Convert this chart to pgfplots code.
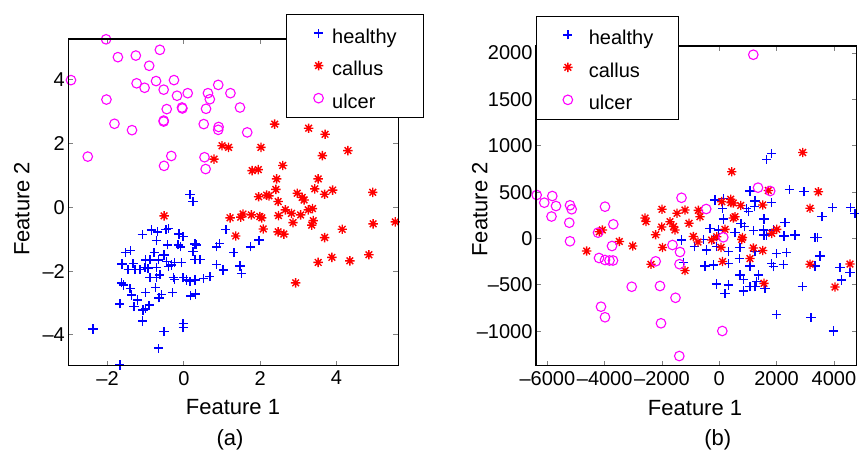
\documentclass[border=0pt]{standalone}
\usepackage{fontspec}
\setmainfont{Liberation Sans}
\usepackage{pgfplots}
\pgfplotsset{compat=1.18}

\definecolor{mblue}{RGB}{0,0,255}
\definecolor{mred}{RGB}{255,0,0}
\definecolor{mmag}{RGB}{255,0,255}

% marks that carry their own colour and pen, so every copy is drawn the same
\pgfdeclareplotmark{hplus}{%
  \pgfsetstrokecolor{mblue}\pgfsetlinewidth{1.4pt}%
  \pgfpathmoveto{\pgfqpoint{-\pgfplotmarksize}{0pt}}%
  \pgfpathlineto{\pgfqpoint{\pgfplotmarksize}{0pt}}%
  \pgfpathmoveto{\pgfqpoint{0pt}{-\pgfplotmarksize}}%
  \pgfpathlineto{\pgfqpoint{0pt}{\pgfplotmarksize}}%
  \pgfusepathqstroke}
\pgfdeclareplotmark{cstar}{%
  \pgfsetstrokecolor{mred}\pgfsetlinewidth{1.4pt}%
  \pgfpathmoveto{\pgfqpoint{-\pgfplotmarksize}{0pt}}%
  \pgfpathlineto{\pgfqpoint{\pgfplotmarksize}{0pt}}%
  \pgfpathmoveto{\pgfqpoint{0pt}{-\pgfplotmarksize}}%
  \pgfpathlineto{\pgfqpoint{0pt}{\pgfplotmarksize}}%
  \pgfpathmoveto{\pgfqpoint{-0.707\pgfplotmarksize}{-0.707\pgfplotmarksize}}%
  \pgfpathlineto{\pgfqpoint{0.707\pgfplotmarksize}{0.707\pgfplotmarksize}}%
  \pgfpathmoveto{\pgfqpoint{-0.707\pgfplotmarksize}{0.707\pgfplotmarksize}}%
  \pgfpathlineto{\pgfqpoint{0.707\pgfplotmarksize}{-0.707\pgfplotmarksize}}%
  \pgfusepathqstroke}
\pgfdeclareplotmark{ucirc}{%
  \pgfsetstrokecolor{mmag}\pgfsetlinewidth{1.1pt}%
  \pgfpathcircle{\pgfpointorigin}{\pgfplotmarksize}%
  \pgfusepathqstroke}

\pgfplotsset{
  fig/.style={
    scale only axis, clip=false, scaled ticks=false,
    axis line style={line width=1.1pt},
    tick style={line width=0.8pt},
    major tick length=5pt,
    tick label style={font=\fontsize{20}{24}\selectfont},
    xticklabel style={yshift=-2pt},
    label style={font=\fontsize{22}{26}\selectfont},
    legend style={font=\fontsize{20}{24}\selectfont, draw=black, line width=1.1pt,
      fill=white, anchor=north west, inner ysep=4pt, row sep=2.4pt,
      cells={anchor=base west},
      nodes={inner sep=0pt, text height=24.6pt, text depth=5.5pt}},
    after end axis/.code={\draw[line width=1.1pt] (rel axis cs:0,0) rectangle (rel axis cs:1,1);},
  },
  mleg/.style={legend image code/.code={%
      \path[draw=none, fill=none] (-#1,4pt) rectangle (#1,16pt);
      \draw[##1] plot coordinates {(0pt,10pt)};}},
  healthy/.style={only marks, mark=hplus, mark size=4.6pt, mblue},
  callus/.style={only marks, mark=cstar, mark size=4.7pt, mred},
  ulcer/.style={only marks, mark=ucirc, mark size=4.8pt, mmag},
}

\begin{document}
\begin{tikzpicture}
\useasboundingbox (0,0) rectangle (859pt,453pt);

% (a)
\begin{axis}[fig,
  at={(68.3pt,414pt)}, anchor=north west,
  width=330pt, height=326.7pt,
  xmin=-3.03, xmax=5.62, ymin=-4.97, ymax=5.28,
  xtick={-2,0,2,4}, xticklabels={–2,0,2,4},
  ytick={-4,-2,0,2,4}, yticklabels={–4,–2,0,2,4},
  xlabel={Feature 1}, ylabel={Feature 2},
  xlabel style={at={(axis description cs:0.499,-0.128)}, anchor=center},
  ylabel style={at={(axis description cs:-0.141,0.48)}, anchor=center},
  legend style={at={(axis description cs:0.6597,1.0765)}, inner xsep=27.2pt, column sep=8.8pt},
]
\addplot[healthy, mleg=4.6pt] coordinates {
(0.16,0.41)(0.24,0.18)(-1.09,-0.85)(-0.85,-0.71)(-0.69,-0.77)(-0.47,-0.69)(-0.41,-0.66)
(-0.72,-1.05)(-0.43,-1.18)(-0.13,-0.84)(-0.02,-0.92)(-0.15,-1.18)(-0.09,-1.24)(0.29,-1.15)
(0.33,-1.18)(0.24,-1.39)(-1.53,-1.42)(-1.40,-1.36)(-0.78,-1.42)(-0.52,-1.50)(-1.62,-1.78)
(-1.33,-1.76)(-1.00,-1.65)(-0.89,-1.65)(-0.67,-1.65)(-0.45,-1.71)(-0.24,-1.74)(-0.06,-1.74)
(0.29,-1.63)(0.42,-1.63)(-1.46,-1.95)(-1.28,-1.95)(-1.15,-1.95)(-1.02,-1.88)(-0.94,-1.91)
(-0.72,-1.88)(-0.41,-1.86)(-0.32,-1.81)(0.86,-1.79)(1.03,-1.97)(1.47,-1.84)(1.51,-2.07)
(-1.63,-2.37)(-1.59,-2.44)(-0.89,-2.20)(-0.72,-2.20)(-0.63,-2.12)(-0.28,-2.20)(-0.24,-2.26)
(-0.02,-2.21)(0.07,-2.28)(0.16,-2.33)(0.29,-2.28)(0.51,-2.23)(0.68,-2.18)(-1.41,-2.54)
(-1.37,-2.75)(-1.22,-2.91)(-1.00,-2.67)(-0.74,-2.51)(-0.58,-2.73)(-0.65,-2.84)(-0.30,-2.67)
(0.18,-2.78)(0.31,-2.72)(-1.68,-3.03)(-1.31,-3.12)(-1.07,-3.22)(-1.00,-3.17)(-0.91,-3.07)
(-1.08,-3.57)(-0.02,-3.64)(-0.02,-3.78)(-0.52,-3.90)(-2.38,-3.82)(-0.66,-4.42)(-1.68,-4.95)
(0.86,-1.24)(0.94,-1.13)(1.10,-0.69)(1.31,-1.42)(1.75,-1.24)(1.97,-1.03)
};
\addlegendentry{healthy}
\addplot[callus, mleg=4.7pt] coordinates {
(2.38,2.61)(3.27,2.48)(3.70,2.29)(1.00,1.93)(1.17,1.88)(2.02,1.88)(4.30,1.78)(3.63,1.62)
(0.79,1.51)(1.79,1.15)(1.95,1.18)(2.59,1.31)(2.43,0.89)(3.52,0.89)(2.41,0.56)(3.43,0.58)
(3.90,0.54)(1.96,0.33)(2.17,0.38)(2.23,0.36)(2.97,0.44)(3.10,0.31)(3.15,0.23)(3.69,0.41)
(4.95,0.47)(2.47,0.18)(2.66,-0.08)(2.82,-0.19)(3.06,-0.24)(3.26,-0.08)(3.37,-0.04)(2.48,-0.26)
(1.21,-0.33)(1.49,-0.31)(1.55,-0.21)(1.77,-0.24)(1.99,-0.29)(2.04,-0.33)(3.39,-0.42)(2.86,-0.48)
(3.35,-0.56)(4.96,-0.52)(5.54,-0.46)(2.08,-0.68)(2.47,-0.77)(2.62,-0.84)(4.15,-0.69)(1.36,-0.90)
(3.69,-0.95)(3.88,-1.57)(3.52,-1.73)(4.35,-1.68)(4.85,-1.49)(2.93,-2.37)(-0.52,-0.27)
};
\addlegendentry{callus}
\addplot[ulcer, mleg=4.8pt] coordinates {
(-2.04,5.27)(-2.96,3.99)(-1.73,4.71)(-1.26,4.76)(-0.63,4.94)(-0.91,4.44)(-1.24,3.89)(-1.03,3.75)
(-0.73,3.96)(-0.53,3.69)(-0.26,3.99)(-0.18,3.50)(0.10,3.58)(-2.03,3.38)(-0.45,3.08)(-0.05,3.13)
(-0.04,3.10)(-0.53,2.72)(-0.53,2.69)(-1.82,2.62)(-1.36,2.42)(0.63,3.58)(0.90,3.84)(0.68,3.39)
(1.22,3.58)(0.58,3.09)(1.47,3.13)(0.52,2.61)(0.91,2.52)(0.90,2.43)(1.66,2.35)(-2.52,1.59)
(-0.33,1.61)(-0.52,1.30)(0.54,1.57)(0.57,1.20)
};
\addlegendentry{ulcer}
\node[font=\fontsize{22}{26}\selectfont] at (axis description cs:0.49,-0.227) {(a)};
\end{axis}

% (b)
\begin{axis}[fig,
  at={(536pt,407pt)}, anchor=north west,
  width=320.7pt, height=319.7pt,
  xmin=-6397, xmax=4795, ymin=-1371, ymax=2075,
  xtick={-6000,-4000,-2000,0,2000,4000},
  xticklabels={–6000,–4000,–2000,0,2000,4000},
  ytick={-1000,-500,0,500,1000,1500,2000},
  yticklabels={–1000,–500,0,500,1000,1500,2000},
  xlabel={Feature 1}, ylabel={Feature 2},
  xlabel style={at={(axis description cs:0.496,-0.131)}, anchor=center},
  ylabel style={at={(axis description cs:-0.175,0.489)}, anchor=center},
  legend style={at={(axis description cs:0,1.0948)}, inner xsep=24.7pt, column sep=14.4pt},
]
\addplot[healthy, mleg=6.6pt] coordinates {
(1829,918)(1654,854)(1071,512)(2443,530)(2956,505)(-150,415)(140,433)(119,326)(1246,404)
(1222,343)(1829,386)(956,326)(1012,289)(3958,332)(4586,332)(4736,272)(3584,235)(140,210)
(757,164)(873,127)(1560,210)(2293,170)(-325,110)(-35,92)(548,63)(1187,84)(1536,92)(1560,38)
(1654,38)(1885,92)(2258,27)(2642,38)(3340,13)(3420,13)(-1312,-16)(-558,-9)(-209,-9)(-873,-88)
(-440,-124)(-91,-88)(314,-142)(722,-95)(1246,-142)(2003,-160)(2352,-153)(3514,-189)(-1249,-261)
(-499,-296)(-209,-286)(314,-267)(698,-213)(1071,-296)(1829,-267)(1885,-304)(2234,-278)(3340,-296)
(4212,-310)(4561,-369)(4272,-447)(722,-393)(838,-440)(1361,-393)(1305,-466)(-91,-490)(314,-501)
(199,-591)(838,-566)(1071,-520)(1246,-520)(1595,-537)(2897,-520)(2003,-817)(3200,-849)(3979,-997)
};
\addlegendentry{healthy}
\addplot[callus, mleg=6.6pt] coordinates {
(-4628,-135)(-4188,73)(-4083,92)(-3490,-32)(-3022,-81)(-2593,221)(-2558,183)(-2384,-278)
(-2220,41)(-2000,315)(-2010,124)(-1982,-97)(-1721,181)(-1598,129)(-1546,92)(-1476,272)
(-1197,307)(-1057,164)(-1197,-345)(-907,22)(-733,304)(-674,235)(-743,-38)(-265,-16)(-91,19)
(199,99)(59,-95)(112,-248)(84,397)(408,386)(398,423)(489,383)(433,720)(489,221)(548,235)
(747,356)(810,11)(782,-9)(1071,-216)(1187,-102)(1515,-129)(1515,361)(1710,517)(1829,56)
(2003,99)(1560,-483)(2911,927)(3165,326)(3455,504)(3165,-277)(4038,-523)(4561,-275)
};
\addlegendentry{callus}
\addplot[ulcer, mleg=6.6pt] coordinates {
(1187,1981)(-6373,469)(-6108,386)(-5828,458)(-5699,350)(-5856,237)(-5211,358)(-5151,315)
(-5235,170)(-5211,-30)(-3989,343)(-4233,63)(-3699,153)(-3745,-81)(-4198,-210)(-3989,-232)
(-3832,-237)(-3710,-237)(-1319,439)(-457,318)(1351,548)(1776,512)(140,13)(-1633,-70)
(-1372,-146)(-2220,-246)(-1389,-277)(-3057,-520)(-2070,-512)(-1529,-639)(-4129,-735)
(-3989,-849)(-2035,-914)(-1396,-1267)(105,-997)
};
\addlegendentry{ulcer}
\node[font=\fontsize{22}{26}\selectfont] at (axis description cs:0.567,-0.232) {(b)};
\end{axis}
\end{tikzpicture}
\end{document}
